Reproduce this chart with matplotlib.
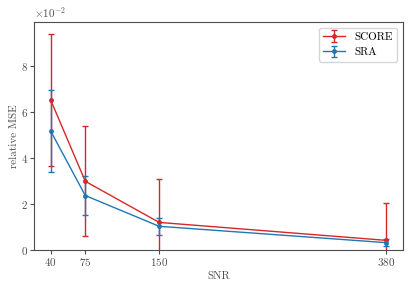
import matplotlib
matplotlib.use("Agg")
import matplotlib.pyplot as plt

plt.rcParams['font.family'] = 'serif'
plt.rcParams['font.serif'] = ['cmr10']
plt.rcParams['mathtext.fontset'] = 'cm'
plt.rcParams['axes.formatter.use_mathtext'] = True
plt.rcParams['axes.unicode_minus'] = False
plt.rcParams['font.size'] = 8

snr = [40, 75, 150, 380]
score_mean = [0.0652, 0.0299, 0.0120, 0.0042]
score_err = [0.0287, 0.0240, 0.0190, 0.0164]
sra_mean = [0.0517, 0.0237, 0.0103, 0.0032]
sra_err = [0.0178, 0.0085, 0.0038, 0.0015]

fig = plt.figure(figsize=(4.15, 2.91), dpi=100)
ax = fig.add_axes([0.082, 0.141, 0.888, 0.783])

for mean, err, col, lab in [(score_mean, score_err, '#d62728', 'SCORE'),
                            (sra_mean, sra_err, '#1f77b4', 'SRA')]:
    ax.errorbar(snr, mean, yerr=err, color=col, lw=1, elinewidth=1,
                marker='o', ms=2.5, capsize=2.5, label=lab)

ax.legend(loc='upper right', fontsize=8)

ax.set_ylim(bottom=0)
ax.set_xticks(snr)
ax.ticklabel_format(axis='y', style='sci', scilimits=(-2, -2))
ax.set_xlabel('SNR', labelpad=2)
ax.set_ylabel('relative MSE', labelpad=1)

for s in ax.spines.values():
    s.set_color('0.3')
ax.tick_params(colors='0.3', labelcolor='0.3', length=3, pad=1.5)
ax.yaxis.get_offset_text().set_color('0.3')
ax.xaxis.label.set_color('0.3')
ax.yaxis.label.set_color('0.3')

fig.savefig('out.png', dpi=100)
